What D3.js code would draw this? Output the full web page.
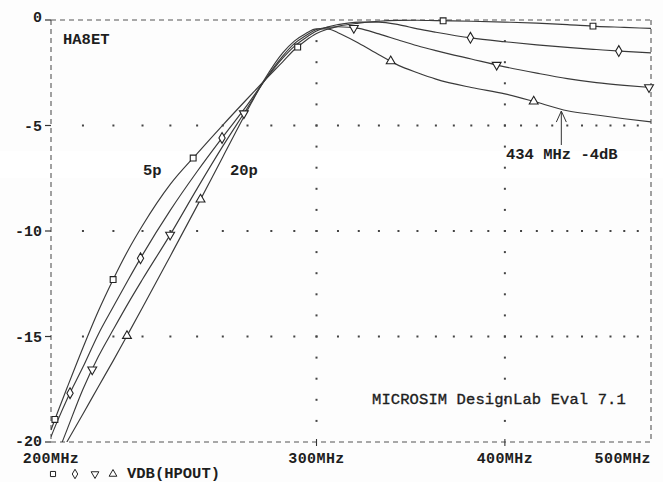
<!DOCTYPE html>
<html>
<head>
<meta charset="utf-8">
<script src="https://cdn.jsdelivr.net/npm/d3@7/dist/d3.min.js"></script>
<style>
  html, body { margin: 0; padding: 0; background: #ffffff; }
  svg { display: block; }
  text { font-family: "Liberation Mono", "DejaVu Sans Mono", monospace; fill: #1e1e1e; }
</style>
</head>
<body>
<svg id="chart" width="663" height="482"></svg>
<script>
// ---------------- data ----------------
const freqs = [200,202,205,210,215,220,225,230,240,250,260,270,277,285,290,295,300,305,310,320,330,340,350,360,380,400,420,440,460,480,500];
const dbSquare   = [-19.43,-18.6,-17.42,-15.53,-13.79,-12.27,-10.91,-9.74,-7.78,-6.33,-4.98,-3.72,-2.88,-1.97,-1.41,-0.98,-0.64,-0.44,-0.3,-0.15,-0.06,-0.02,-0.01,-0.03,-0.06,-0.1,-0.15,-0.22,-0.3,-0.35,-0.4];
const dbDiamond  = [-19.75,-19.0,-17.96,-16.45,-14.89,-13.58,-12.32,-11.13,-9.01,-7.18,-5.54,-4.01,-2.9,-1.8,-1.25,-0.85,-0.52,-0.33,-0.22,-0.1,-0.1,-0.22,-0.42,-0.58,-0.85,-1.03,-1.18,-1.3,-1.4,-1.49,-1.56];
const dbTriDown  = [-21.35,-20.57,-19.4,-17.5,-15.95,-14.66,-13.43,-12.29,-10.16,-7.99,-5.98,-4.16,-2.89,-1.7,-1.12,-0.75,-0.45,-0.35,-0.32,-0.4,-0.66,-0.95,-1.22,-1.45,-1.85,-2.22,-2.52,-2.78,-2.97,-3.1,-3.2];
const dbTriUp    = [-21.3,-20.77,-19.98,-18.67,-17.38,-16.13,-14.87,-13.63,-11.18,-8.81,-6.49,-4.27,-2.84,-1.55,-1.0,-0.65,-0.42,-0.42,-0.6,-1.1,-1.65,-2.15,-2.5,-2.8,-3.2,-3.5,-3.9,-4.3,-4.5,-4.68,-4.83];

const markSquare  = [201.2, 219.9, 248.5, 291.5, 364, 457.6];
const markDiamond = [205.9, 229.3, 259.7, 379.5, 476];
const markTriDown = [213, 239.9, 268.5, 317.6, 395, 498.5];
const markTriUp   = [224.6, 251.3, 336, 418];

const xTicks = [200, 300, 400, 500];
const xTickLabels = ["200MHz", "300MHz", "400MHz", "500MHz"];
const yTicks = [0, -5, -10, -15, -20];
const yTickLabels = ["0", "-5", "-10", "-15", "-20"];
const xMinorDots = [210,220,230,240,250,260,270,280,290,300,310,320,330,340,350,360,370,380,390,400,410,420,430,440,450,460,470,480,490];
const yMinorDots = [-1,-2,-3,-4,-5,-6,-7,-8,-9,-10,-11,-12,-13,-14,-15,-16,-17,-18,-19];
const gridRows = [-5, -10, -15];
const gridCols = [300, 400];
const legendLabel = "VDB(HPOUT)";
const titleText = "HA8ET";
const footerText = "MICROSIM DesignLab Eval 7.1";
const annotText = "434 MHz -4dB";
const annotFreq = 436;
const capLeft = "5p", capRight = "20p";

// ---------------- drawing ----------------
const svg = d3.select("#chart");
const L = 51, R = 651, T = 20, B = 442;
const x = d3.scaleLog().domain([200, 500]).range([L, R]);
const y = d3.scaleLinear().domain([0, -20]).range([T, B]);
const ink = "#333";

svg.append("rect").attr("x", 0).attr("y", 0).attr("width", 663).attr("height", 482).attr("fill", "#fdfdfd");
svg.append("rect").attr("x", 0).attr("y", 151).attr("width", 663).attr("height", 27).attr("fill", "#ffffff");

// grid dots
const g = svg.append("g");
gridRows.forEach(r => {
  g.selectAll(null).data(xMinorDots).enter().append("rect")
    .attr("x", d => x(d) - 1).attr("y", y(r) - 1).attr("width", 2).attr("height", 2).attr("fill", "#444");
});
gridCols.forEach(c => {
  g.selectAll(null).data(yMinorDots).enter().append("rect")
    .attr("x", x(c) - 1).attr("y", d => y(d) - 1).attr("width", 2).attr("height", 2).attr("fill", "#444");
});

// frame (dashed)
const dash = "5,4";
[[L, T, R, T], [L, B, R, B], [L, T, L, B], [R, T, R, B]].forEach(s => {
  svg.append("line").attr("x1", s[0]).attr("y1", s[1]).attr("x2", s[2]).attr("y2", s[3])
    .attr("stroke", "#555").attr("stroke-width", 1.1).attr("stroke-dasharray", dash);
});

// y ticks + labels
yTicks.forEach((v, i) => {
  svg.append("line").attr("x1", L - 6).attr("x2", L).attr("y1", y(v)).attr("y2", y(v)).attr("stroke", ink).attr("stroke-width", 1.2);
  const dy = i === 0 ? 2 : (i === yTicks.length - 1 ? 4 : 5);
  svg.append("text").attr("x", 42).attr("y", y(v) + dy).attr("text-anchor", "end")
    .attr("font-size", 15).attr("font-weight", "bold").text(yTickLabels[i]);
});
// x ticks + labels
xTicks.forEach((v, i) => {
  if (i > 0 && i < xTicks.length - 1)
    svg.append("line").attr("x1", x(v)).attr("x2", x(v)).attr("y1", B - 3).attr("y2", B + 4).attr("stroke", ink).attr("stroke-width", 1.1);
  const anchor = i === xTicks.length - 1 ? "end" : "middle";
  svg.append("text").attr("x", x(v)).attr("y", 463).attr("text-anchor", anchor)
    .attr("font-size", 15).attr("font-weight", "bold").attr("letter-spacing", 0.4).text(xTickLabels[i]);
});

// series
const series = [
  { vals: dbSquare,  marks: markSquare,  sym: "square" },
  { vals: dbDiamond, marks: markDiamond, sym: "diamond" },
  { vals: dbTriDown, marks: markTriDown, sym: "tridown" },
  { vals: dbTriUp,   marks: markTriUp,   sym: "triup" }
];
svg.append("clipPath").attr("id", "clip").append("rect").attr("x", L).attr("y", T - 2).attr("width", R - L).attr("height", B - T + 2);
const line = d3.line().x(d => x(d[0])).y(d => y(d[1])).curve(d3.curveMonotoneX);
const plot = svg.append("g").attr("clip-path", "url(#clip)");
function symPath(kind, s) {
  if (kind === "square") return d3.symbol(d3.symbolSquare, s)();
  if (kind === "diamond") return d3.symbol(d3.symbolDiamond, s)();
  return d3.symbol(d3.symbolTriangle, s)();
}
function interp(vals, f) {
  for (let i = 0; i < freqs.length - 1; i++) {
    if (f >= freqs[i] && f <= freqs[i + 1]) {
      const t = (Math.log(f) - Math.log(freqs[i])) / (Math.log(freqs[i + 1]) - Math.log(freqs[i]));
      return vals[i] + t * (vals[i + 1] - vals[i]);
    }
  }
  return vals[vals.length - 1];
}
series.forEach(s => {
  const pts = freqs.map((f, i) => [f, s.vals[i]]);
  plot.append("path").datum(pts).attr("d", line).attr("fill", "none").attr("stroke", "#3a3a3a").attr("stroke-width", 1.15);
});
series.forEach(s => {
  s.marks.forEach(f => {
    const px = x(f), py = y(interp(s.vals, f));
    svg.append("path").attr("d", symPath(s.sym, 34))
      .attr("transform", `translate(${px},${py})` + (s.sym === "tridown" ? " rotate(180)" : ""))
      .attr("fill", "#fff").attr("stroke", "#222").attr("stroke-width", 1.1);
  });
});

// texts
svg.append("text").attr("x", 63).attr("y", 44).attr("font-size", 15.5).attr("font-weight", "bold").text(titleText);
svg.append("text").attr("x", 143).attr("y", 175).attr("font-size", 15.5).attr("font-weight", "bold").text(capLeft);
svg.append("text").attr("x", 230).attr("y", 175).attr("font-size", 15.5).attr("font-weight", "bold").text(capRight);
svg.append("text").attr("x", 506).attr("y", 159).attr("font-size", 15.5).attr("font-weight", "bold").text(annotText);
svg.append("text").attr("x", 372).attr("y", 404).attr("font-size", 15.5).attr("letter-spacing", 0.1)
  .attr("stroke", "#1e1e1e").attr("stroke-width", 0.35).text(footerText);

// arrow
const ax = x(annotFreq), ay = y(interp(dbTriUp, annotFreq)) + 2;
svg.append("line").attr("x1", ax).attr("x2", ax).attr("y1", 145).attr("y2", ay).attr("stroke", "#333").attr("stroke-width", 1);
svg.append("path").attr("d", `M${ax - 5},${ay + 11} L${ax},${ay} L${ax + 5},${ay + 11}`).attr("fill", "none").attr("stroke", "#333").attr("stroke-width", 1);

// legend
const legendSyms = ["square", "diamond", "tridown", "triup"];
const legendX = [53, 75, 95, 113];
legendSyms.forEach((k, i) => {
  svg.append("path").attr("d", symPath(k, 26))
    .attr("transform", `translate(${legendX[i]},474)` + (k === "tridown" ? " rotate(180)" : ""))
    .attr("fill", "#fff").attr("stroke", "#222").attr("stroke-width", 1);
});
svg.append("text").attr("x", 127).attr("y", 478).attr("font-size", 15.5).attr("font-weight", "bold").text(legendLabel);
</script>
</body>
</html>
